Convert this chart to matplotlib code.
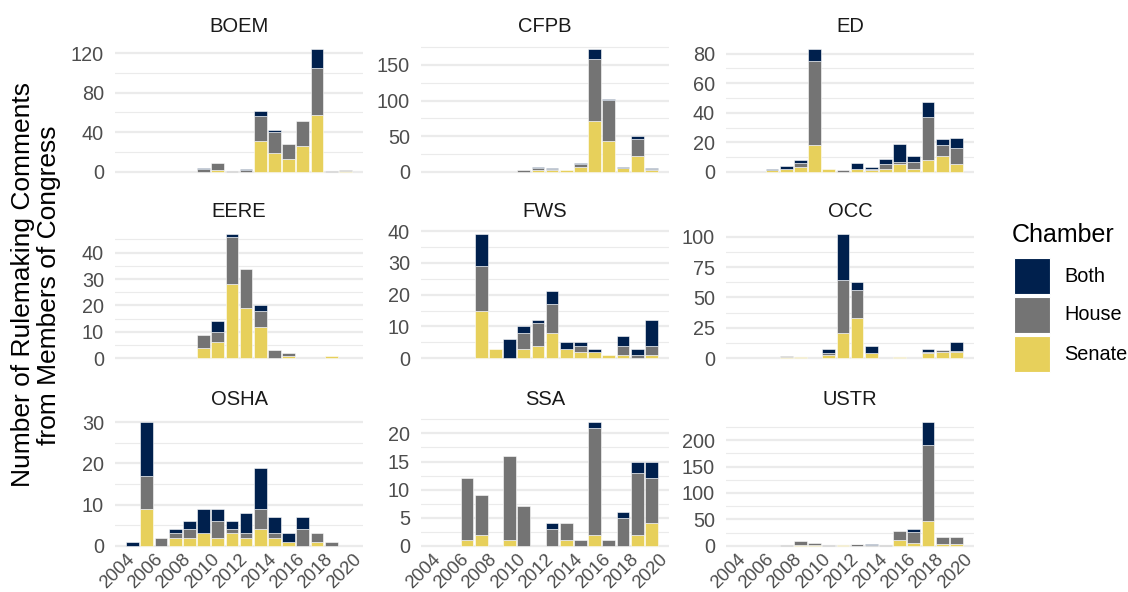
import numpy as np
import matplotlib
matplotlib.use("Agg")
import matplotlib.pyplot as plt
import matplotlib.transforms as mtransforms
from matplotlib.patches import Rectangle

plt.rcParams['font.family'] = ['Liberation Sans', 'DejaVu Sans']

years = list(range(2004, 2020))
agencies = ["BOEM", "CFPB", "ED", "EERE", "FWS", "OCC", "OSHA", "SSA", "USTR"]
chambers = ["Both", "House", "Senate"]

senate = {
    "BOEM": [0, 0, 0, 0, 0, 0, 2, 0, 0, 31, 19, 13, 26, 57, 0, 1],
    "CFPB": [0, 0, 0, 0, 0, 0, 0, 2, 3, 3, 7, 71, 43, 5, 22, 3],
    "ED":   [0, 0, 1, 2, 3, 18, 2, 0, 2, 1, 2, 5, 2, 8, 11, 5],
    "EERE": [0, 0, 0, 0, 0, 4, 6, 28, 19, 12, 0, 1, 0, 0, 1, 0],
    "FWS":  [0, 0, 0, 15, 3, 0, 3, 4, 8, 3, 2, 2, 1, 1, 0, 1],
    "OCC":  [0, 0, 0, 1, 1, 0, 3, 21, 33, 4, 0, 1, 0, 4, 5, 5],
    "OSHA": [0, 9, 0, 2, 2, 3, 2, 3, 2, 4, 2, 1, 0, 1, 0, 0],
    "SSA":  [0, 0, 1, 2, 0, 1, 0, 0, 0, 1, 0, 2, 0, 0, 2, 4],
    "USTR": [0, 0, 0, 0, 2, 2, 0, 1, 0, 0, 0, 11, 6, 47, 4, 3],
}
house = {
    "BOEM": [0, 0, 0, 0, 0, 3, 7, 1, 2, 25, 21, 15, 25, 48, 1, 1],
    "CFPB": [0, 0, 0, 0, 0, 0, 2, 4, 1, 0, 4, 87, 58, 1, 24, 1],
    "ED":   [0, 0, 0, 0, 3, 57, 0, 1, 0, 1, 3, 2, 5, 29, 7, 11],
    "EERE": [0, 0, 0, 0, 0, 5, 4, 18, 15, 6, 3, 1, 0, 0, 0, 0],
    "FWS":  [0, 0, 0, 14, 0, 0, 5, 7, 9, 0, 2, 0, 0, 3, 1, 3],
    "OCC":  [0, 0, 0, 1, 0, 0, 1, 43, 23, 0, 0, 0, 0, 1, 2, 1],
    "OSHA": [0, 8, 2, 1, 2, 0, 4, 1, 1, 5, 1, 0, 4, 2, 1, 0],
    "SSA":  [0, 0, 11, 7, 0, 15, 7, 0, 3, 3, 1, 19, 1, 5, 11, 8],
    "USTR": [0, 0, 0, 1, 7, 3, 1, 0, 3, 1, 1, 17, 21, 144, 12, 13],
}
both = {
    "BOEM": [0, 0, 0, 0, 0, 1, 0, 0, 1, 6, 2, 0, 0, 19, 0, 0],
    "CFPB": [0, 0, 0, 0, 0, 0, 0, 1, 1, 0, 2, 14, 1, 1, 4, 1],
    "ED":   [0, 0, 1, 2, 2, 8, 0, 0, 4, 1, 4, 12, 4, 10, 4, 7],
    "EERE": [0, 0, 0, 0, 0, 0, 4, 1, 0, 2, 0, 0, 0, 0, 0, 0],
    "FWS":  [0, 0, 0, 10, 0, 6, 2, 1, 4, 2, 1, 1, 0, 3, 2, 8],
    "OCC":  [0, 0, 0, 0, 0, 0, 4, 38, 7, 6, 0, 0, 0, 3, 0, 7],
    "OSHA": [1, 13, 0, 1, 2, 6, 3, 2, 5, 10, 4, 2, 3, 0, 0, 0],
    "SSA":  [0, 0, 0, 0, 0, 0, 0, 0, 1, 0, 0, 1, 0, 1, 2, 3],
    "USTR": [0, 0, 0, 0, 0, 0, 0, 0, 1, 2, 0, 0, 5, 43, 0, 0],
}
y_tick_step = {"BOEM": 40, "CFPB": 50, "ED": 20, "EERE": 10, "FWS": 10,
               "OCC": 25, "OSHA": 10, "SSA": 5, "USTR": 50}
x_ticks = list(range(2004, 2021, 2))

colors = {"Both": "#00204D", "House": "#747474", "Senate": "#E7D05B"}

W, H = 1128, 592
fig = plt.figure(figsize=(W / 100, H / 100), dpi=100)

col_left = [115, 421, 726]
panel_w = 248
rows = [(43, 178), (228, 364.5), (416, 552)]

bar_w = 0.9
yr = np.array(years, dtype=float)
x_lo = yr.min() - bar_w / 2
x_hi = yr.max() + bar_w / 2
x_pad = 0.05 * (x_hi - x_lo)

label_shift = mtransforms.ScaledTranslation(5 / 100, 1.5 / 100, fig.dpi_scale_trans)

for i, name in enumerate(agencies):
    r, c = divmod(i, 3)
    top, bot = rows[r]
    ax = fig.add_axes([col_left[c] / W, 1 - bot / H, panel_w / W, (bot - top) / H])
    s = np.array(senate[name], float)
    h = np.array(house[name], float)
    b = np.array(both[name], float)
    for vals, base, key in [(s, np.zeros_like(s), "Senate"), (h, s, "House"), (b, s + h, "Both")]:
        m = vals > 0
        ax.bar(yr[m], vals[m], bottom=base[m], width=bar_w, color=colors[key],
               edgecolor="white", linewidth=0.4, zorder=3)
    total = s + h + b
    ymax = total.max()
    ax.set_xlim(x_lo - x_pad, x_hi + x_pad)
    ax.set_ylim(-0.05 * ymax, 1.05 * ymax)
    step = y_tick_step[name]
    majors = np.arange(0, 1.05 * ymax + 1e-9, step)
    minors = np.arange(step / 2, 1.05 * ymax, step)
    ax.set_yticks(majors)
    ax.set_yticks(minors, minor=True)
    ax.set_yticklabels([f"{int(v)}" for v in majors])
    ax.set_xticks(x_ticks)
    ax.set_xticks([], minor=True)
    ax.grid(False)
    ax.yaxis.grid(True, which="major", color="#EBEBEB", linewidth=1.6, zorder=0)
    ax.yaxis.grid(True, which="minor", color="#EBEBEB", linewidth=0.8, zorder=0)
    ax.set_axisbelow(True)
    for sp in ax.spines.values():
        sp.set_visible(False)
    ax.tick_params(axis="both", which="both", length=0, labelsize=14.3,
                   labelcolor="#4D4D4D")
    ax.tick_params(axis="y", pad=8)
    if r == 2:
        ax.set_xticklabels([str(x) for x in x_ticks], rotation=45, ha="right",
                           va="top", rotation_mode="default", fontsize=13.3)
        ax.tick_params(axis="x", pad=0)
        for lab in ax.get_xticklabels():
            lab.set_transform(lab.get_transform() + label_shift)
    else:
        ax.tick_params(axis="x", labelbottom=False)
    ax.set_title(name, fontsize=14.5, color="#1A1A1A", pad=8)

fig.text(36 / W, 1 - 285 / H, "Number of Rulemaking Comments\nfrom Members of Congress",
         rotation=90, ha="center", va="center", multialignment="center",
         fontsize=19, color="black", linespacing=1.1)

# legend (drawn in figure pixel coordinates)
fig.text(1012 / W, 1 - 242 / H, "Chamber", ha="left", va="baseline",
         fontsize=18, color="black")
key_tops = [258, 297, 336]
for key, kt in zip(chambers, key_tops):
    fig.add_artist(Rectangle((1014 / W, 1 - (kt + 36) / H), 36 / W, 36 / H,
                             transform=fig.transFigure, facecolor=colors[key],
                             edgecolor="white", linewidth=0.8))
    fig.text(1064 / W, 1 - (kt + 18) / H, key, ha="left", va="center",
             fontsize=14.3, color="black")

fig.savefig("out.png", dpi=100)
